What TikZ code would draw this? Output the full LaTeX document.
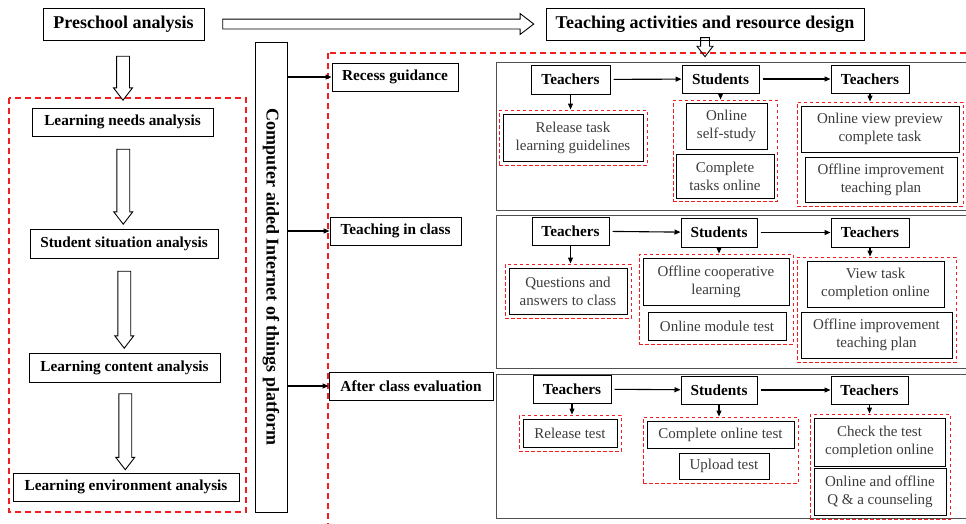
\documentclass[tikz,border=0pt]{standalone}
\usepackage{fontspec}
\setmainfont{Liberation Serif}
\usetikzlibrary{arrows.meta,positioning,fit,calc,shapes.arrows}
\definecolor{dashred}{RGB}{240,30,30}
\definecolor{textgray}{RGB}{60,60,60}
\definecolor{panelgray}{RGB}{80,80,80}

\begin{document}
\begin{tikzpicture}[
    x=1pt, y=-1pt,
    title/.style={draw, line width=1pt, inner sep=0pt, font=\fontsize{18}{20}\selectfont\bfseries},
    stage/.style={draw, line width=1pt, inner sep=0pt, minimum height=28pt, font=\fontsize{15.3}{18}\selectfont\bfseries},
    task/.style={draw, line width=1pt, inner sep=0pt, align=center, text=textgray, font=\fontsize{15}{18}\selectfont},
    grp/.style={draw=dashred, line width=1pt, dash pattern=on 3.5pt off 2.5pt, inner sep=3.5pt},
    bigdash/.style={draw=dashred, line width=1.4pt, dash pattern=on 6pt off 4pt},
    panel/.style={draw=panelgray, line width=1pt, anchor=north west, minimum width=490pt},
    hollow/.style={single arrow, draw, line width=0.9pt, inner xsep=0pt, inner ysep=6pt, single arrow head extend=3pt, single arrow tip angle=75},
    arrow/.style={-{Triangle[length=6pt,width=5pt]}, line width=1.1pt},
]
    \useasboundingbox (0,0) rectangle (966,523);

    % preschool analysis
    \node[title, minimum width=161pt, minimum height=32pt] (pre) at (123.5,24) {Preschool analysis};
    \node[title, minimum width=318pt, minimum height=32pt] (tad) at (705,24) {Teaching activities and resource design};
    \node[stage, minimum width=181pt] (lna) at (122.5,122) {Learning needs analysis};
    \node[stage, minimum width=188pt, minimum height=29pt] (ssa) at (124,243.5) {Student situation analysis};
    \node[stage, minimum width=191pt, minimum height=29pt] (lca) at (124.5,367.5) {Learning content analysis};
    \node[stage, minimum width=226pt] (lea) at (126,487) {Learning environment analysis};
    \draw[bigdash] (9,98) rectangle (246,512);

    \node[hollow, rotate=-90, minimum height=44pt] (h1) at ($(pre.south)!0.5!(lna.north)$) {};
    \node[hollow, rotate=-90, minimum height=75pt] (h2) at ($(lna.south)!0.5!(ssa.north)$) {};
    \node[hollow, rotate=-90, minimum height=77pt] (h3) at ($(ssa.south)!0.5!(lca.north)$) {};
    \node[hollow, rotate=-90, minimum height=76pt] (h4) at ($(lca.south)!0.5!(lea.north)$) {};
    \node[hollow, minimum height=311pt, inner ysep=4.5pt, single arrow head extend=5.5pt] (h0) at ($(pre.east)!0.5!(tad.west)$) {};

    % platform
    \node[title, rotate=-90, minimum width=470pt, minimum height=32pt] (iot) at (271,277) {Computer aided Internet of things platform};

    % teaching activities
    \node[panel, minimum height=148pt] (p1) at (496,62) {};
    \node[panel, minimum height=153pt] (p2) at (496,215) {};
    \node[panel, minimum height=144pt] (p3) at (496,374) {};
    \draw[bigdash] (328,53) rectangle (1000,540);
    \node[hollow, rotate=-90, minimum height=19pt, inner ysep=4pt, single arrow head extend=3.5pt, xshift=-7pt] (h5) at ($(tad.south)!0.5!(tad.south |- p1.north)$) {};

    \node[stage, minimum width=126pt] (recess) at (395,77) {Recess guidance};
    \node[stage, minimum width=131pt] (inclass) at (395.5,231) {Teaching in class};
    \node[stage, minimum width=164pt] (after) at (411,386) {After class evaluation};
    \foreach \s in {recess,inclass,after}
        \draw[arrow] (iot.north |- \s) -- (\s.west);

    % recess guidance
    \node[stage, minimum width=79pt, minimum height=29pt] (tea1) at (570.5,79.5) {Teachers};
    \node[stage, minimum width=77pt] (stu1) at (720.5,79) {Students};
    \node[stage, minimum width=78pt] (chk1) at (870,79) {Teachers};
    \node[task, minimum width=140pt, minimum height=47pt] (rel1) at (573,137.5) {Release task\\learning guidelines};
    \node[task, minimum width=81pt, minimum height=46pt] (self1) at (726.5,126) {Online\\self-study};
    \node[task, minimum width=98pt, minimum height=44pt] (done1) at (725,176) {Complete\\tasks online};
    \node[task, minimum width=158pt, minimum height=46pt] (view1) at (880,129) {Online view preview\\complete task};
    \node[task, minimum width=152pt, minimum height=45pt] (plan1) at (881,179.5) {Offline improvement\\teaching plan};
    \node[grp, fit=(rel1)] (g1a) {};
    \node[grp, fit=(self1)(done1), inner sep=2.5pt] (g1b) {};
    \node[grp, fit=(view1)(plan1)] (g1c) {};
    \draw[arrow, shorten <=3pt] (tea1) -- (stu1);
    \draw[arrow, shorten <=3pt] (stu1) -- (chk1);
    \draw[arrow] (tea1) -- (tea1 |- g1a.north);
    \draw[arrow] (stu1) -- (stu1 |- g1b.north);
    \draw[arrow] (chk1) -- (chk1 |- g1c.north);

    % teaching in class
    \node[stage, minimum width=77pt] (tea2) at (570.5,231) {Teachers};
    \node[stage, minimum width=76pt, minimum height=29pt] (stu2) at (719,232.5) {Students};
    \node[stage, minimum width=78pt, minimum height=29pt] (chk2) at (870,232.5) {Teachers};
    \node[task, minimum width=118pt, minimum height=46pt] (qa2) at (568,291) {Questions and\\answers to class};
    \node[task, minimum width=146pt, minimum height=47pt] (coop2) at (716,281.5) {Offline cooperative\\learning};
    \node[task, minimum width=138pt, minimum height=28pt] (mod2) at (717,326) {Online module test};
    \node[task, minimum width=137pt, minimum height=46pt] (view2) at (875.5,284) {View task\\completion online};
    \node[task, minimum width=151pt, minimum height=46pt] (plan2) at (876.5,335) {Offline improvement\\teaching plan};
    \node[grp, fit=(qa2)] (g2a) {};
    \node[grp, fit=(coop2)(mod2)] (g2b) {};
    \node[grp, fit=(view2)(plan2)] (g2c) {};
    \draw[arrow, shorten <=3pt] (tea2) -- (stu2);
    \draw[arrow, shorten <=3pt] (stu2) -- (chk2);
    \draw[arrow] (tea2) -- (tea2 |- g2a.north);
    \draw[arrow] (stu2) -- (stu2 |- g2b.north);
    \draw[arrow] (chk2) -- (chk2 |- g2c.north);

    % after class evaluation
    \node[stage, minimum width=78pt] (tea3) at (572,389) {Teachers};
    \node[stage, minimum width=76pt] (stu3) at (719,390) {Students};
    \node[stage, minimum width=77pt] (chk3) at (869.5,390) {Teachers};
    \node[task, minimum width=94pt, minimum height=28pt] (rel3) at (570,433) {Release test};
    \node[task, minimum width=147pt, minimum height=27pt] (test3) at (720.5,434.5) {Complete online test};
    \node[task, minimum width=90pt, minimum height=26pt] (up3) at (724,466) {Upload test};
    \node[task, minimum width=131pt, minimum height=48pt] (look3) at (879.5,442) {Check the test\\completion online};
    \node[task, minimum width=132pt, minimum height=47pt] (qa3) at (880,491.5) {Online and offline\\Q \& a counseling};
    \node[grp, fit=(rel3)] (g3a) {};
    \node[grp, fit=(test3)(up3)] (g3b) {};
    \node[grp, fit=(look3)(qa3)] (g3c) {};
    \draw[arrow, shorten <=3pt] (tea3) -- (stu3);
    \draw[arrow, shorten <=3pt] (stu3) -- (chk3);
    \draw[arrow] (tea3) -- (tea3 |- g3a.north);
    \draw[arrow] (stu3) -- (stu3 |- g3b.north);
    \draw[arrow] (chk3) -- (chk3 |- g3c.north);

\end{tikzpicture}
\end{document}
